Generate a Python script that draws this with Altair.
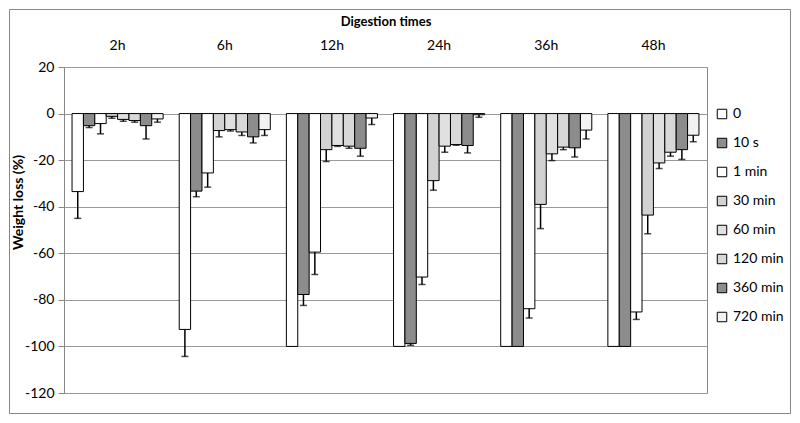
import altair as alt
import pandas as pd

groups = ["2h", "6h", "12h", "24h", "36h", "48h"]
series = ["0", "10 s", "1 min", "30 min", "60 min", "120 min", "360 min", "720 min"]

v0 = [-33.5, -92.7, -100, -100, -100, -100]
e0 = [11.5, 11.6, 0, 0, 0, 0]
v10s = [-5.2, -33.3, -77.7, -98.7, -100, -100]
e10s = [0.8, 2.4, 4.7, 0.8, 0, 0]
v1 = [-4.3, -25.5, -59.5, -70.2, -83.8, -85.2]
e1 = [4.4, 6.1, 9.6, 3.2, 4.0, 3.2]
v30 = [-1.2, -7.3, -15.5, -28.8, -39.0, -43.6]
e30 = [0.8, 2.7, 5.1, 4.1, 10.4, 8.0]
v60 = [-2.5, -6.9, -13.7, -14.0, -17.3, -21.2]
e60 = [0.8, 0.6, 0.4, 2.6, 2.9, 2.4]
v120 = [-3.0, -7.9, -14.0, -13.3, -14.4, -16.6]
e120 = [0.7, 1.5, 0.9, 0.3, 1.1, 1.7]
v360 = [-5.2, -10.0, -14.9, -13.7, -14.7, -15.5]
e360 = [5.7, 2.6, 3.4, 3.2, 3.9, 4.2]
v720 = [-2.3, -6.9, -1.9, -0.5, -7.1, -9.3]
e720 = [1.4, 2.5, 2.8, 1.1, 3.8, 2.8]

values = [v0, v10s, v1, v30, v60, v120, v360, v720]
errors = [e0, e10s, e1, e30, e60, e120, e360, e720]
fills = ["#ffffff", "#8c8c8c", "#ffffff", "#d2d2d2", "#e0e0e0", "#d8d8d8", "#8c8c8c", "#f2f2f2"]

rows = []
for s, vals, errs in zip(series, values, errors):
    for g, v, e in zip(groups, vals, errs):
        rows.append({"group": g, "series": s, "value": v, "low": v - e, "err": e})
df = pd.DataFrame(rows)

FONT = "Lato"

x_enc = alt.X("group:N", sort=groups,
              scale=alt.Scale(paddingInner=0.15, paddingOuter=0.075),
              axis=alt.Axis(orient="top", title="Digestion times", labelAngle=0,
                            ticks=False, domain=False, labelPadding=15,
                            titlePadding=10, labelFontSize=14, titleFontSize=13,
                            titleFontWeight="bold", labelColor="#000", titleColor="#000"))
xo = alt.XOffset("series:N", sort=series, scale=alt.Scale(domain=series, paddingInner=0, paddingOuter=0))
y_scale = alt.Scale(domain=[-120, 20], nice=False, zero=False)

bars = alt.Chart(df).mark_bar(stroke="black", strokeWidth=1).encode(
    x=x_enc,
    xOffset=xo,
    y=alt.Y("value:Q", scale=y_scale,
            axis=alt.Axis(title="Weight loss (%)", values=list(range(-120, 21, 20)),
                          labelExpr="'' + datum.value", grid=True, gridColor="#9a9a9a",
                          tickSize=6, tickColor="#888", domainColor="#888",
                          labelFontSize=14, titleFontSize=14, titleFontWeight="bold",
                          labelColor="#000", titleColor="#000",
                          titleX=-46, titleY=135, titleAngle=-90,
                          titleAlign="center", titleBaseline="middle", labelPadding=4)),
    y2=alt.datum(0),
    color=alt.Color("series:N", sort=series,
                    scale=alt.Scale(domain=series, range=fills),
                    legend=alt.Legend(title=None, orient="none", legendX=651, legendY=40,
                                      symbolType="square", symbolSize=90,
                                      symbolStrokeColor="black", symbolStrokeWidth=1,
                                      labelFontSize=14, labelColor="#000",
                                      rowPadding=15, labelOffset=4)),
)

err_df = df[df["err"] > 0]
rules = alt.Chart(err_df).mark_rule(color="black", strokeWidth=1.5).encode(
    x=alt.X("group:N", sort=groups), xOffset=xo,
    y=alt.Y("value:Q", scale=y_scale), y2="low:Q",
)
caps = alt.Chart(err_df).mark_tick(color="black", thickness=1.5, size=7, orient="horizontal").encode(
    x=alt.X("group:N", sort=groups), xOffset=xo,
    y=alt.Y("low:Q", scale=y_scale),
)

border = alt.Chart(pd.DataFrame({"k": [0]})).mark_rect(
    fill=None, stroke="#888", strokeWidth=1, clip=False
).encode(
    x=alt.value(-54.5), x2=alt.value(726.5), y=alt.value(-57.5), y2=alt.value(346.5)
)

chart = alt.layer(border, bars, rules, caps).properties(
    width=643, height=326,
    autosize=alt.AutoSizeParams(type="none"),
    padding={"left": 56, "top": 59, "right": 85, "bottom": 22},
).configure(font=FONT).configure_view(stroke="#888", strokeWidth=1)

chart.save("out.html", embed_options={"renderer": "svg", "actions": False})
